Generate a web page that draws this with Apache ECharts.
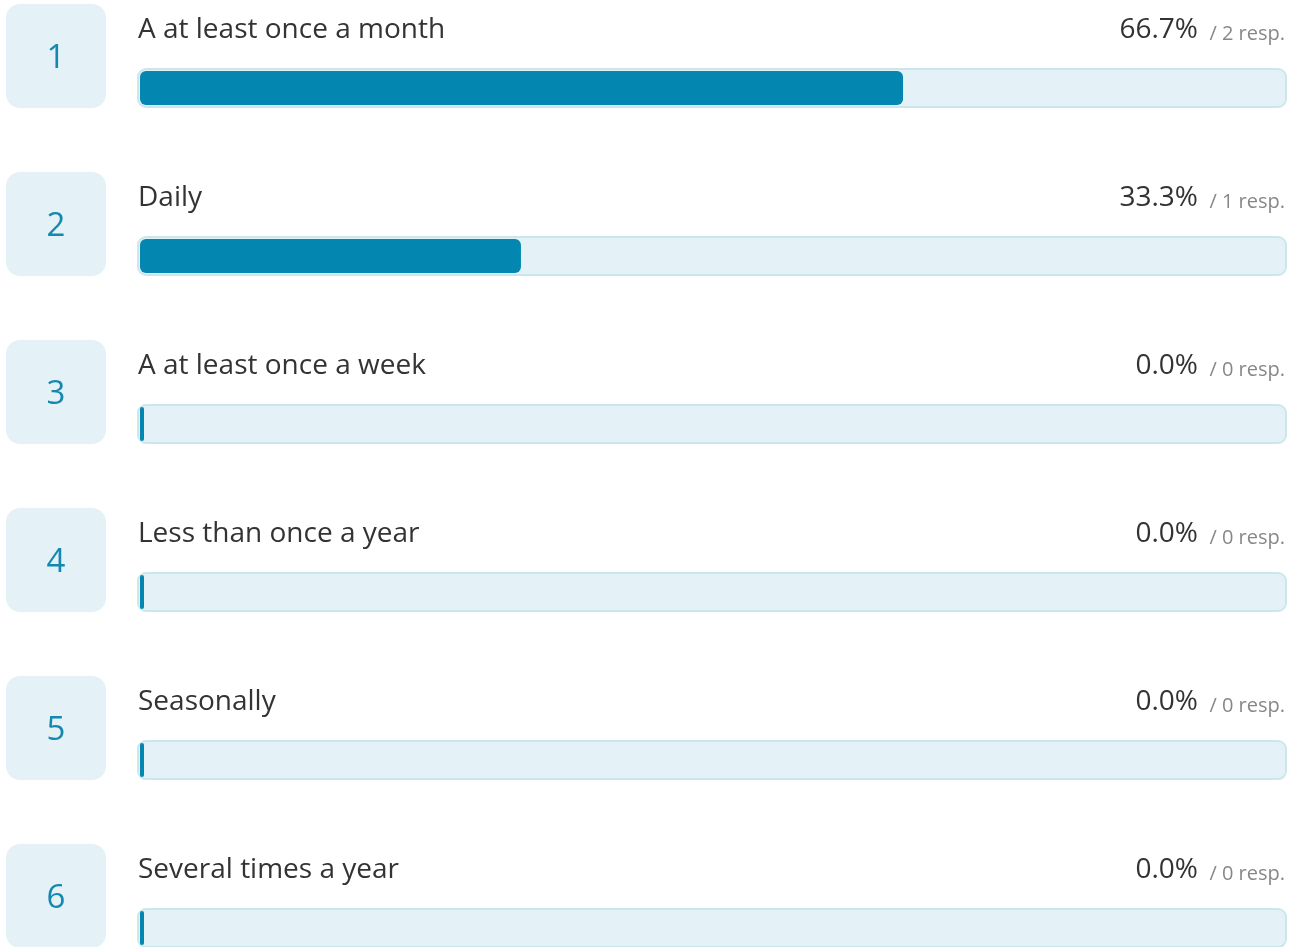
<!DOCTYPE html>
<html>
<head>
<meta charset="utf-8">
<script src="https://cdn.jsdelivr.net/npm/echarts@6/dist/echarts.min.js"></script>
<style>
html, body { margin: 0; padding: 0; background: #fff; }
#chart { width: 1298px; height: 947px; }
</style>
</head>
<body>
<div id="chart"></div>
<script>
// answers, in rank order
var categories = ['A at least once a month', 'Daily', 'A at least once a week', 'Less than once a year', 'Seasonally', 'Several times a year'];
var percents = [66.7, 33.3, 0.0, 0.0, 0.0, 0.0];
var responses = [2, 1, 0, 0, 0, 0];

var FONT = '"Source Sans Pro", "Open Sans", sans-serif';

var chart = echarts.init(document.getElementById('chart'));

function renderRow(params, api) {
    var idx = api.value(1);
    var pct = api.value(0);
    var start = api.coord([0, idx]);
    var end = api.coord([pct, idx]);
    var full = api.coord([100, idx]);
    var x0 = start[0];
    var cy = start[1];
    var fillW = Math.max(end[0] - x0, 4);
    return {
        type: 'group',
        children: [
            {   // rank box
                type: 'rect',
                shape: { x: x0 - 134, y: cy - 84, width: 100, height: 104, r: 14 },
                style: { fill: '#e4f2f8' }
            },
            {
                type: 'text',
                style: {
                    x: x0 - 84, y: cy - 29, text: String(idx + 1),
                    fill: '#1488b0', font: '33px ' + FONT,
                    align: 'center', verticalAlign: 'middle'
                }
            },
            {
                type: 'text',
                style: {
                    x: x0 - 2, y: cy - 58, text: categories[idx],
                    fill: '#333', font: '28px ' + FONT,
                    align: 'left', verticalAlign: 'middle'
                }
            },
            {
                type: 'text',
                style: {
                    x: full[0] - 86, y: cy - 58, text: pct.toFixed(1) + '%',
                    fill: '#333', font: '28px ' + FONT,
                    align: 'right', verticalAlign: 'middle'
                }
            },
            {
                type: 'text',
                style: {
                    x: full[0] + 1, y: cy - 54, text: '/ ' + responses[idx] + ' resp.',
                    fill: '#888', font: '20px ' + FONT,
                    align: 'right', verticalAlign: 'middle'
                }
            },
            {   // track
                type: 'rect',
                shape: { x: x0 - 2, y: cy - 19, width: full[0] - x0 + 4, height: 38, r: 8 },
                style: { fill: '#e4f2f8', stroke: '#cde6ee', lineWidth: 2 }
            },
            {   // fill
                type: 'rect',
                shape: { x: x0, y: cy - 17, width: fillW, height: 34, r: fillW > 12 ? 6 : 2 },
                style: { fill: '#0387b0' }
            }
        ]
    };
}

var option = {
    animation: false,
    grid: { left: 140, width: 1144, top: 4, bottom: 0 },
    xAxis: { type: 'value', min: 0, max: 100, show: false },
    // 168px per row: 943 / 168 = 5.613 rows visible from -0.5
    yAxis: { type: 'value', min: -0.5, max: 5.113, inverse: true, show: false },
    series: [{
        type: 'custom',
        renderItem: renderRow,
        clip: false,
        encode: { x: 0, y: 1 },
        data: percents.map(function (p, i) { return [p, i]; })
    }]
};
chart.setOption(option);
</script>
</body>
</html>
